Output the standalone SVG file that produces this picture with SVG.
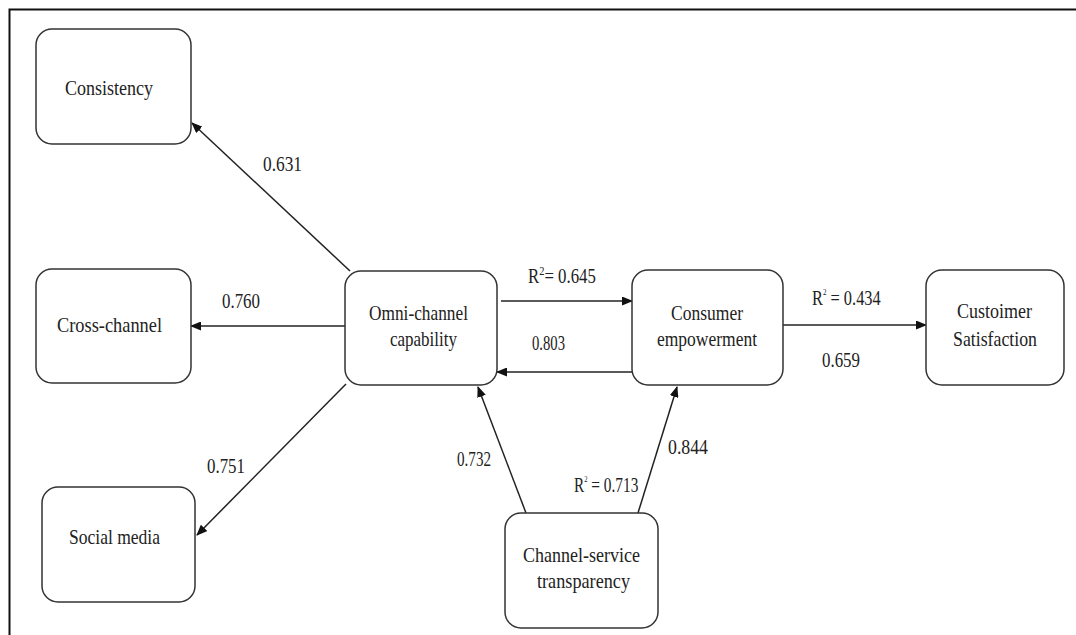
<svg xmlns="http://www.w3.org/2000/svg" width="1076" height="635" viewBox="0 0 1076 635">
<defs>
<style>
.box{fill:#fff;stroke:#333;stroke-width:1.5}
.lbl{font-family:"Liberation Serif","Times New Roman",serif;font-size:22px;fill:#222}
.num{font-family:"Liberation Serif","Times New Roman",serif;font-size:21px;fill:#222}
.edge{stroke:#222;stroke-width:1.5;fill:none;marker-end:url(#ah)}
</style>
<marker id="ah" markerUnits="userSpaceOnUse" markerWidth="11" markerHeight="9" refX="10" refY="4.5" orient="auto">
<path d="M0,0 L11,4.5 L0,9 z" fill="#111"/>
</marker>
</defs>
<rect width="1076" height="635" fill="#fff"/>
<path d="M9.5,635 V9.5 H1076" fill="none" stroke="#111" stroke-width="2"/>

<g id="connectors">
<path class="edge" d="M350,271 L192,123"/>
<path class="edge" d="M345,326 L191,326"/>
<path class="edge" d="M346,384 L197,535"/>
<path class="edge" d="M501,301 L632,301"/>
<path class="edge" d="M632,372 L497,372"/>
<path class="edge" d="M783,325 L926,325"/>
<path class="edge" d="M526,513 L478,387"/>
<path class="edge" d="M638,513 L677,387"/>
</g>

<g id="consistency">
<rect class="box" x="36" y="29" width="155" height="115" rx="16"/>
<text class="lbl" x="65" y="95" textLength="88" lengthAdjust="spacingAndGlyphs">Consistency</text>
</g>
<g id="cross-channel">
<rect class="box" x="36" y="269" width="155" height="114" rx="16"/>
<text class="lbl" x="57" y="332" textLength="105" lengthAdjust="spacingAndGlyphs">Cross-channel</text>
</g>
<g id="social-media">
<rect class="box" x="42" y="487" width="153" height="115" rx="16"/>
<text class="lbl" x="69" y="544" textLength="91" lengthAdjust="spacingAndGlyphs">Social media</text>
</g>
<g id="omni-channel">
<rect class="box" x="345" y="271" width="152" height="114" rx="16"/>
<text class="lbl" x="369" y="320" textLength="99" lengthAdjust="spacingAndGlyphs">Omni-channel</text>
<text class="lbl" x="390" y="346" textLength="67" lengthAdjust="spacingAndGlyphs">capability</text>
</g>
<g id="consumer-empowerment">
<rect class="box" x="632" y="270" width="151" height="115" rx="16"/>
<text class="lbl" x="671" y="320" textLength="72" lengthAdjust="spacingAndGlyphs">Consumer</text>
<text class="lbl" x="657" y="346" textLength="100" lengthAdjust="spacingAndGlyphs">empowerment</text>
</g>
<g id="customer-satisfaction">
<rect class="box" x="926" y="270" width="138" height="115" rx="16"/>
<text class="lbl" x="957" y="318" textLength="75" lengthAdjust="spacingAndGlyphs">Custoimer</text>
<text class="lbl" x="953" y="346" textLength="84" lengthAdjust="spacingAndGlyphs">Satisfaction</text>
</g>
<g id="channel-service-transparency">
<rect class="box" x="505" y="513" width="153" height="115" rx="16"/>
<text class="lbl" x="523" y="562" textLength="117" lengthAdjust="spacingAndGlyphs">Channel-service</text>
<text class="lbl" x="537" y="588" textLength="93" lengthAdjust="spacingAndGlyphs">transparency</text>
</g>

<g id="edge-labels">
<text class="num" x="263" y="171" textLength="39" lengthAdjust="spacingAndGlyphs">0.631</text>
<text class="num" x="222" y="308" textLength="38" lengthAdjust="spacingAndGlyphs">0.760</text>
<text class="num" x="207" y="473" textLength="38" lengthAdjust="spacingAndGlyphs">0.751</text>
<text class="num" x="532" y="350" textLength="33" lengthAdjust="spacingAndGlyphs">0.803</text>
<text class="num" x="822" y="367" textLength="38" lengthAdjust="spacingAndGlyphs">0.659</text>
<text class="num" x="457" y="466" textLength="34" lengthAdjust="spacingAndGlyphs">0.732</text>
<text class="num" x="668" y="454" textLength="40" lengthAdjust="spacingAndGlyphs">0.844</text>
<text class="num" transform="translate(528,283) scale(0.8,1)">R<tspan dy="-8" font-size="13">2</tspan><tspan dy="8">= 0.645</tspan></text>
<text class="num" transform="translate(812,305) scale(0.78,1)">R<tspan dy="-10" font-size="9">2</tspan><tspan dy="10"> = 0.434</tspan></text>
<text class="num" transform="translate(574,492) scale(0.73,1)">R<tspan dy="-10" font-size="9">2</tspan><tspan dy="10"> = 0.713</tspan></text>
</g>
</svg>
